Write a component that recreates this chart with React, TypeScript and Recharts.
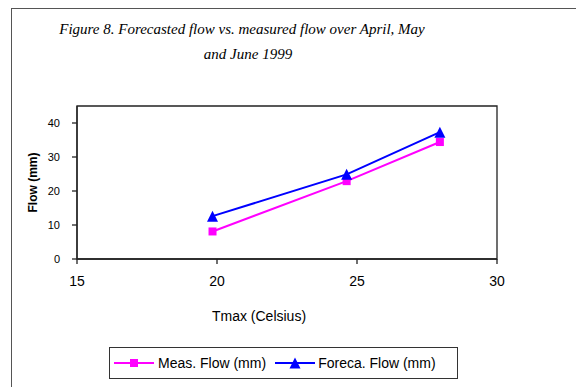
import React from 'react';
import { LineChart, Line, XAxis, YAxis, Legend, ReferenceArea } from 'recharts';

const tmax = [19.84, 24.63, 27.96];
const measFlow = [8.1, 22.9, 34.4];
const forecaFlow = [12.6, 24.9, 37.3];
const xTicks = [15, 20, 25, 30];
const yTicks = [0, 10, 20, 30, 40];
const seriesNames = ['Meas. Flow (mm)', 'Foreca. Flow (mm)'];
const seriesColors = ['#FF00FF', '#0000FF'];
const titleLines = ['Figure 8. Forecasted flow vs. measured flow over April, May', 'and June 1999'];

const data = tmax.map((t, i) => ({ tmax: t, meas: measFlow[i], fore: forecaFlow[i] }));

const SquareDot = (props: any) => {
  const { cx, cy } = props;
  if (cx == null || cy == null) return null;
  return <rect x={cx - 4} y={cy - 4} width={8} height={8} fill={seriesColors[0]} />;
};

const TriangleDot = (props: any) => {
  const { cx, cy } = props;
  if (cx == null || cy == null) return null;
  return <path d={`M${cx},${cy - 5.5} L${cx + 5.5},${cy + 5.5} L${cx - 5.5},${cy + 5.5} Z`} fill={seriesColors[1]} />;
};

const YLabel = (props: any) => {
  const vb = props.viewBox || {};
  const x = vb.x + 21;
  const y = vb.y + vb.height / 2;
  return (
    <text x={x} y={y} transform={`rotate(-90 ${x} ${y})`} textAnchor="middle" dominantBaseline="central"
      fontFamily="'Liberation Sans', Arial, sans-serif" fontSize={12} fontWeight="bold" fill="#000">
      Flow (mm)
    </text>
  );
};

const XLabel = (props: any) => {
  const vb = props.viewBox || {};
  const x = vb.x + 182;
  const y = vb.y + 62;
  return (
    <text x={x} y={y} textAnchor="middle" fontFamily="'Liberation Sans', Arial, sans-serif" fontSize={14} fill="#000">
      Tmax (Celsius)
    </text>
  );
};

const LegendContent = () => (
  <div style={{ boxSizing: 'border-box', width: 349, height: 32, border: '1px solid #333', display: 'flex', alignItems: 'center', fontFamily: "'Liberation Sans', Arial, sans-serif", fontSize: 14, color: '#000', paddingLeft: 4, background: '#fff' }}>
    <svg width={40} height={14} style={{ display: 'block' }}>
      <line x1={0} y1={7} x2={40} y2={7} stroke={seriesColors[0]} strokeWidth={2} />
      <rect x={16} y={3} width={8} height={8} fill={seriesColors[0]} />
    </svg>
    <span style={{ marginLeft: 4 }}>{seriesNames[0]}</span>
    <svg width={40} height={14} style={{ display: 'block', marginLeft: 9 }}>
      <line x1={0} y1={7} x2={40} y2={7} stroke={seriesColors[1]} strokeWidth={2} />
      <path d="M20,1.5 L25.5,12.5 L14.5,12.5 Z" fill={seriesColors[1]} />
    </svg>
    <span style={{ marginLeft: 3 }}>{seriesNames[1]}</span>
  </div>
);

export default function App() {
  const axisColor = '#222';
  return (
    <div style={{ position: 'absolute', left: 0, top: 0, width: 576, height: 387, overflow: 'hidden', background: '#fff' }}>
      <div style={{ position: 'absolute', left: 11, top: 8, width: 700, height: 500, border: '1px solid #555' }} />
      <div style={{ position: 'absolute', left: 0, top: 20, width: 484, textAlign: 'center', fontFamily: "'Liberation Serif', 'Times New Roman', serif", fontStyle: 'italic', fontSize: 15, lineHeight: '18px', whiteSpace: 'nowrap', color: '#000' }}>
        {titleLines[0]}
      </div>
      <div style={{ position: 'absolute', left: 0, top: 45, width: 496, textAlign: 'center', fontFamily: "'Liberation Serif', 'Times New Roman', serif", fontStyle: 'italic', fontSize: 15, lineHeight: '18px', whiteSpace: 'nowrap', color: '#000' }}>
        {titleLines[1]}
      </div>
      <div style={{ position: 'absolute', left: 0, top: 0 }}>
        <LineChart width={576} height={387} data={data} margin={{ top: 106, right: 79, left: 12, bottom: 58 }}>
          <ReferenceArea xAxisId="main" yAxisId="main" x1={15} x2={30} y1={0} y2={45} fill="none" fillOpacity={0} stroke={axisColor} strokeWidth={1.3} ifOverflow="visible" />
          <XAxis
            xAxisId="main"
            type="number"
            dataKey="tmax"
            domain={[15, 30]}
            ticks={xTicks}
            allowDataOverflow
            height={70}
            tickSize={5}
            tickMargin={12}
            axisLine={{ stroke: axisColor, strokeWidth: 1.3 }}
            tickLine={{ stroke: axisColor, strokeWidth: 1.3 }}
            tick={{ fill: '#000', fontSize: 14, fontFamily: "'Liberation Sans', Arial, sans-serif" }}
            label={<XLabel />}
          />
          <YAxis
            yAxisId="main"
            type="number"
            domain={[0, 45]}
            ticks={yTicks}
            allowDataOverflow
            width={65}
            tickSize={5}
            tickMargin={12}
            axisLine={{ stroke: axisColor, strokeWidth: 1.3 }}
            tickLine={{ stroke: axisColor, strokeWidth: 1.3 }}
            tick={{ fill: '#000', fontSize: 11, fontFamily: "'Liberation Sans', Arial, sans-serif" }}
            label={<YLabel />}
          />
          <Line xAxisId="main" yAxisId="main" type="linear" dataKey="meas" name={seriesNames[0]} stroke={seriesColors[0]} strokeWidth={2} dot={<SquareDot />} activeDot={false} isAnimationActive={false} />
          <Line xAxisId="main" yAxisId="main" type="linear" dataKey="fore" name={seriesNames[1]} stroke={seriesColors[1]} strokeWidth={2} dot={<TriangleDot />} activeDot={false} isAnimationActive={false} />
          <Legend verticalAlign="middle" align="center" layout="horizontal" wrapperStyle={{ left: 109, top: 347, width: 349, height: 32 }} content={<LegendContent />} />
        </LineChart>
      </div>
    </div>
  );
}
